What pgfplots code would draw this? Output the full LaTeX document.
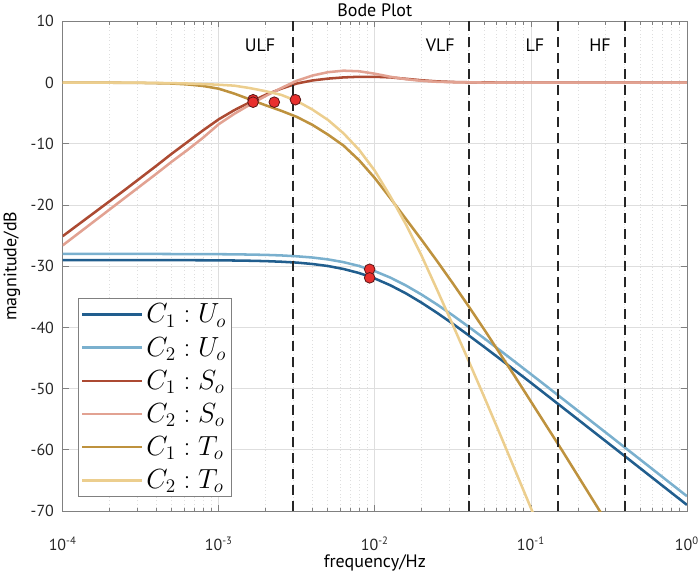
\documentclass[border=0pt]{standalone}
\usepackage{fontspec}
\setmainfont{PT Sans}
\usepackage{pgfplots}
\usepackage{pgfplotstable}
\pgfplotsset{compat=1.18}

\definecolor{uA}{RGB}{33,94,142}
\definecolor{uB}{RGB}{122,176,206}
\definecolor{sA}{RGB}{172,74,50}
\definecolor{sB}{RGB}{226,162,146}
\definecolor{tA}{RGB}{190,146,62}
\definecolor{tB}{RGB}{236,206,142}
\definecolor{mk}{RGB}{232,48,46}
\definecolor{mke}{RGB}{90,24,24}

\pgfplotstableread{
f         U1      U2      S1     S2     T1     T2
1e-4      -29.00  -28.00  -25.1  -26.6   0      0
1.2589e-4 -29.00  -28.00  -23.2  -24.65  0      0
1.5849e-4 -29.00  -28.00  -21.3  -22.7  -0.01   0
1.9953e-4 -29.00  -28.00  -19.4  -20.75 -0.02   0
2.5119e-4 -29.00  -28.00  -17.5  -18.8  -0.03  -0.01
3.1623e-4 -29.00  -28.00  -15.55 -16.85 -0.05  -0.02
3.9811e-4 -29.01  -28.00  -13.6  -14.9  -0.1   -0.05
5.0119e-4 -29.01  -28.01  -11.6  -12.9  -0.15  -0.09
6.3096e-4 -29.02  -28.01  -9.7   -11.0  -0.3   -0.15
7.9433e-4 -29.03  -28.02  -7.8   -9.0   -0.55  -0.24
1e-3      -29.04  -28.04  -6.0   -6.8   -1.0   -0.35
1.2589e-3 -29.07  -28.06  -4.5   -5.1   -1.8   -0.5
1.5849e-3 -29.11  -28.10  -3.2   -3.6   -2.75  -0.9
1.9953e-3 -29.17  -28.15  -2.0   -2.2   -3.7   -1.4
2.5119e-3 -29.27  -28.24  -1.0   -0.9   -4.6   -2.0
3.1623e-3 -29.41  -28.38  -0.15   0.3   -5.6   -3.0
3.9811e-3 -29.64  -28.58   0.35   1.15  -6.9   -4.4
5.0119e-3 -29.97  -28.89   0.65   1.7   -8.5   -6.1
6.3096e-3 -30.46  -29.34   0.85   1.95  -10.3  -8.3
7.9433e-3 -31.12  -29.97   0.95   1.85  -12.7  -11.0
1e-2      -32.01  -30.81   0.95   1.45  -15.6  -14.4
1.2589e-2 -33.12  -31.87   0.85   0.95  -18.9  -18.6
1.5849e-2 -34.45  -33.16   0.62   0.55  -22.3  -23.2
1.9953e-2 -35.97  -34.64   0.38   0.28  -25.7  -28.3
2.5119e-2 -37.64  -36.28   0.2    0.13  -29.2  -33.9
3.1623e-2 -39.41  -38.03   0.1    0.06  -32.8  -39.6
3.9811e-2 -41.27  -39.87   0.05   0.03  -36.5  -45.4
5.0119e-2 -43.17  -41.77   0.02   0.01  -40.3  -51.3
6.3096e-2 -45.11  -43.70   0.01   0     -44.2  -57.3
7.9433e-2 -47.07  -45.66   0      0     -48.1  -63.4
0.1       -49.04  -47.63   0      0     -52.1  -69.5
0.12589   -51.03  -49.61   0      0     -56.1  -75.6
0.15849   -53.02  -51.60   0      0     -60.1   nan
0.19953   -55.01  -53.59   0      0     -64.2   nan
0.25119   -57.01  -55.59   0      0     -68.3   nan
0.31623   -59.00  -57.58   0      0     -72.4   nan
0.39811   -61.00  -59.58   0      0      nan    nan
0.50119   -63.00  -61.58   0      0      nan    nan
0.63096   -65.00  -63.58   0      0      nan    nan
0.79433   -67.00  -65.58   0      0      nan    nan
1         -69.00  -67.58   0      0      nan    nan
}\bode

\pgfplotstableread{
f        m
0.00166  -2.8
0.00166  -3.2
0.00227  -3.2
0.0031   -2.8
0.00927  -30.5
0.00927  -31.9
}\marks

\begin{document}
\begin{tikzpicture}
\begin{semilogxaxis}[
  at={(0,0)}, anchor=south west,
  scale only axis, width=468.2pt, height=367.2pt,
  xmin=1e-4, xmax=1, ymin=-70, ymax=10,
  xtick={1e-4,1e-3,1e-2,1e-1,1},
  xticklabels={10\textsuperscript{-4},10\textsuperscript{-3},10\textsuperscript{-2},10\textsuperscript{-1},10\textsuperscript{0}},
  ytick={-70,-60,-50,-40,-30,-20,-10,0,10},
  /pgf/number format/assume math mode=true,
  tick align=inside,
  major tick length=4.5pt, minor tick length=2.6pt,
  xmajorgrids, xminorgrids, ymajorgrids,
  major grid style={line width=0.5pt, draw=black!13},
  minor grid style={line width=0.5pt, draw=black!13, dotted},
  axis line style={draw=black!50, line width=0.6pt},
  every tick/.style={draw=black!50, line width=0.5pt},
  ticklabel style={font=\fontsize{12}{14}\selectfont, text=black!85},
  xticklabel style={yshift=-16pt},
  yticklabel style={xshift=-3pt},
  xlabel={frequency/Hz}, ylabel={magnitude/dB},
  xlabel style={at={(axis description cs:0.5,0)}, anchor=center, yshift=-39pt, font=\fontsize{13.5}{15}\selectfont},
  ylabel style={at={(axis description cs:0,0.5)}, anchor=center, yshift=38pt, font=\fontsize{13.5}{15}\selectfont},
  title={Bode Plot},
  every axis title/.style={at={(axis description cs:0.5,1)}, anchor=base, yshift=4pt, font=\fontsize{13.5}{15}\selectfont},
  legend style={at={(0.025,0.03)}, anchor=south west, draw=black!50, fill=white,
    font=\fontsize{21.5}{24}\selectfont, row sep=5.2pt, inner sep=2pt},
  legend cell align=left,
  legend image code/.code={\draw[#1] (0pt,0pt) -- (45pt,0pt);},
]
\addplot[uA, line width=1.9pt] table[x=f,y=U1] {\bode};
\addlegendentry{$C_1 : U_o$}
\addplot[uB, line width=1.9pt] table[x=f,y=U2] {\bode};
\addlegendentry{$C_2 : U_o$}
\addplot[sA, line width=1.9pt] table[x=f,y=S1] {\bode};
\addlegendentry{$C_1 : S_o$}
\addplot[sB, line width=1.9pt] table[x=f,y=S2] {\bode};
\addlegendentry{$C_2 : S_o$}
\addplot[tA, line width=1.9pt] table[x=f,y=T1] {\bode};
\addlegendentry{$C_1 : T_o$}
\addplot[tB, line width=1.9pt] table[x=f,y=T2] {\bode};
\addlegendentry{$C_2 : T_o$}

\addplot[black!85, line width=1.6pt, dash pattern=on 7.5pt off 4.5pt, forget plot] coordinates {(0.003,-70) (0.003,10)};
\addplot[black!85, line width=1.6pt, dash pattern=on 7.5pt off 4.5pt, forget plot] coordinates {(0.04,-70) (0.04,10)};
\addplot[black!85, line width=1.6pt, dash pattern=on 7.5pt off 4.5pt, forget plot] coordinates {(0.15,-70) (0.15,10)};
\addplot[black!85, line width=1.6pt, dash pattern=on 7.5pt off 4.5pt, forget plot] coordinates {(0.4,-70) (0.4,10)};

\addplot[only marks, mark=*, mark size=4pt, mark options={fill=mk, draw=mke, line width=0.6pt}, forget plot] table[x=f,y=m] {\marks};

\node[anchor=east, font=\fontsize{13.5}{15}\selectfont] at (axis cs:0.003,6.1) [xshift=-10pt] {ULF};
\node[anchor=east, font=\fontsize{13.5}{15}\selectfont] at (axis cs:0.04,6.1) [xshift=-7pt] {VLF};
\node[anchor=east, font=\fontsize{13.5}{15}\selectfont] at (axis cs:0.15,6.1) [xshift=-7pt] {LF};
\node[anchor=east, font=\fontsize{13.5}{15}\selectfont] at (axis cs:0.4,6.1) [xshift=-7pt] {HF};
\end{semilogxaxis}
\pgfresetboundingbox
\path[use as bounding box] (-47pt,-51pt) rectangle (478pt,383.25pt);
\end{tikzpicture}
\end{document}
